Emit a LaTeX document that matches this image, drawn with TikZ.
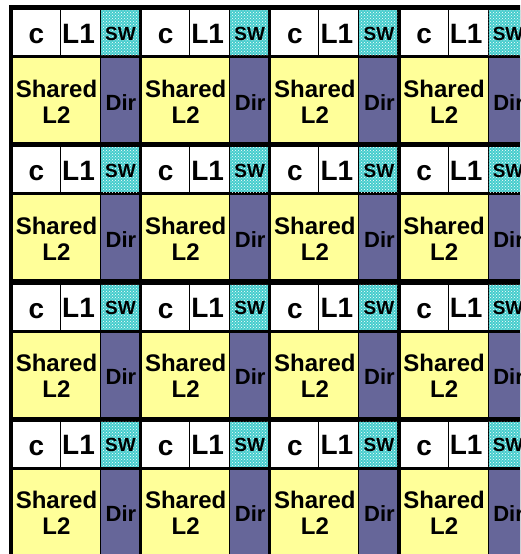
\documentclass[tikz,border=0pt]{standalone}
\usepackage{fontspec}
\setmainfont{Liberation Sans}
\usetikzlibrary{patterns}

\definecolor{l2yellow}{RGB}{255,255,153}
\definecolor{dirblue}{RGB}{102,102,153}
\definecolor{swcyan}{RGB}{70,205,205}

\begin{document}
\begin{tikzpicture}[x=1pt, y=-1pt,
  lbl/.style={anchor=base, inner sep=0pt},
  lone/.style={lbl, font=\fontsize{28}{30}\selectfont\bfseries},
  swlbl/.style={lbl, font=\fontsize{19}{21}\selectfont\bfseries},
  shared/.style={lbl, font=\fontsize{24}{26}\selectfont\bfseries},
  dirlbl/.style={lbl, font=\fontsize{22}{24}\selectfont\bfseries}]

  % Area della figura (tagliata a destra e in basso)
  \useasboundingbox (0,0) rectangle (520,554);
  \clip (0,0) rectangle (520,554);
  \fill[white] (0,0) rectangle (520,554);

  % Fondo nero = bordi tra i blocchi
  \fill[black] (9,5) rectangle (540,570);

  % Griglia 4x4 di tile
  \foreach \i in {0,...,3} {
    \foreach \j in {0,...,3} {
      \begin{scope}[shift={(13+129.2*\i, 10+137.3*\j)}]
        % Riga superiore: core, L1, switch
        \fill[white] (0,0) rectangle (47,45);
        \fill[white] (48,0) rectangle (87,45);
        \fill[swcyan] (88,0) rectangle (126,45);
        \fill[pattern=crosshatch dots, pattern color=white] (88,0) rectangle (126,45);
        % Riga inferiore: L2 condivisa e directory
        \fill[l2yellow] (0,48) rectangle (87,132);
        \fill[dirblue] (88,48) rectangle (126,132);

        \node[lone] (c\i\j) at (23.5,33.5) {c};
        \node[lone] (l1\i\j) at (65.5,33) {L1};
        \node[swlbl] (sw\i\j) at (107.5,30) {SW};
        \node[shared] (sh\i\j) at (43.5,87) {Shared};
        \node[shared] (l2\i\j) at (43.5,113) {L2};
        \node[dirlbl] (dir\i\j) at (108,100) {Dir};
      \end{scope}
    }
  }

\end{tikzpicture}
\end{document}
